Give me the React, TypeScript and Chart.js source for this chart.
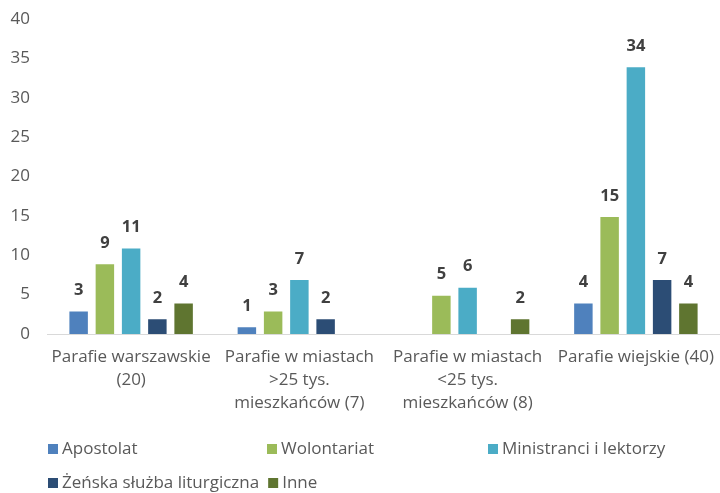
import React, { useEffect, useRef } from "react";
import { Chart, registerables } from "chart.js";

Chart.register(...registerables);

const categories: string[][] = [
  ["Parafie warszawskie", "(20)"],
  ["Parafie w miastach", ">25 tys.", "mieszkańców (7)"],
  ["Parafie w miastach", "<25 tys.", "mieszkańców (8)"],
  ["Parafie wiejskie (40)"],
];

const seriesNames = [
  "Apostolat",
  "Wolontariat",
  "Ministranci i lektorzy",
  "Żeńska służba liturgiczna",
  "Inne",
];

const apostolat = [3, 1, null, 4];
const wolontariat = [9, 3, 5, 15];
const ministranci = [11, 7, 6, 34];
const zenska = [2, 2, null, 7];
const inne = [4, null, 2, 4];

const colors = ["#4F81BD", "#9BBB59", "#4BACC6", "#2C4D75", "#5F7530"];

const yTicks = [0, 5, 10, 15, 20, 25, 30, 35, 40];

const FONT = "'Open Sans', Lato, sans-serif";

export default function App() {
  const ref = useRef<HTMLCanvasElement | null>(null);

  useEffect(() => {
    document.body.style.margin = "0";
    const canvas = ref.current;
    if (!canvas) return;

    const values = [apostolat, wolontariat, ministranci, zenska, inne];

    const labelPlugin = {
      id: "valueLabels",
      afterDatasetsDraw(chart: any) {
        const ctx = chart.ctx;
        ctx.save();
        ctx.font = `bold 16.5px ${FONT}`;
        ctx.fillStyle = "#404040";
        ctx.textAlign = "center";
        ctx.textBaseline = "middle";
        chart.data.datasets.forEach((ds: any, i: number) => {
          const meta = chart.getDatasetMeta(i);
          meta.data.forEach((bar: any, j: number) => {
            const v = ds.data[j];
            if (v === null || v === undefined) return;
            ctx.fillText(String(v), bar.x, bar.y - 20);
          });
        });
        ctx.restore();
      },
    };

    const legendPlugin = {
      id: "customLegend",
      afterDraw(chart: any) {
        const ctx = chart.ctx;
        ctx.save();
        ctx.font = `17px ${FONT}`;
        ctx.textBaseline = "middle";
        ctx.textAlign = "left";
        const row1 = 449;
        const row2 = 483;
        const box = 10;
        const draw = (i: number, x: number, y: number) => {
          ctx.fillStyle = colors[i];
          ctx.fillRect(x, y - box / 2, box, box);
          ctx.fillStyle = "#595959";
          ctx.fillText(seriesNames[i], x + box + 4, y);
          return x + box + 4 + ctx.measureText(seriesNames[i]).width;
        };
        draw(0, 48, row1);
        draw(1, 267, row1);
        draw(2, 488, row1);
        const end = draw(3, 48, row2);
        draw(4, end + 9, row2);
        ctx.restore();
      },
    };

    const chart = new Chart(canvas, {
      type: "bar",
      data: {
        labels: categories,
        datasets: seriesNames.map((name, i) => ({
          label: name,
          data: values[i],
          backgroundColor: colors[i],
          borderColor: "#FFFFFF",
          borderWidth: 1,
          categoryPercentage: 0.78,
          barPercentage: 0.78,
        })),
      },
      options: {
        responsive: false,
        animation: false,
        layout: { padding: { top: 19, left: 0, right: 0, bottom: 0 } },
        plugins: {
          legend: { display: false },
          tooltip: { enabled: false },
        },
        scales: {
          x: {
            grid: { display: false, drawTicks: false },
            border: { display: true, color: "#D9D9D9", width: 1 },
            ticks: {
              color: "#595959",
              font: { family: FONT, size: 17, lineHeight: 1.35 },
              padding: 12,
              maxRotation: 0,
              autoSkip: false,
            },
            afterFit: (s: any) => {
              s.height = 159;
              s.paddingLeft = 0;
              s.paddingRight = 0;
            },
          },
          y: {
            min: 0,
            max: 40,
            afterBuildTicks: (s: any) => {
              s.ticks = yTicks.map((v) => ({ value: v }));
            },
            grid: { display: false, drawTicks: false },
            border: { display: false },
            ticks: {
              color: "#595959",
              font: { family: FONT, size: 17 },
              padding: 17,
            },
            afterFit: (s: any) => {
              s.width = 47;
              s.paddingTop = 0;
              s.paddingBottom = 0;
            },
          },
        },
      },
      plugins: [labelPlugin, legendPlugin],
    });

    return () => chart.destroy();
  }, []);

  return <canvas ref={ref} width={720} height={493} style={{ display: "block" }} />;
}
